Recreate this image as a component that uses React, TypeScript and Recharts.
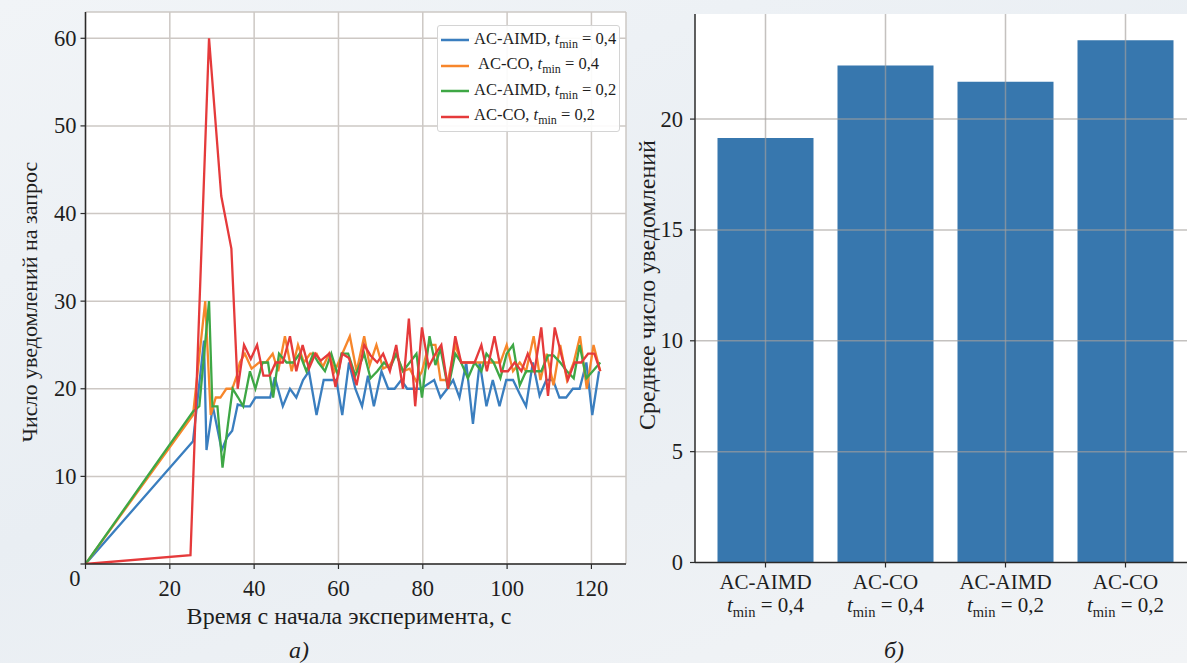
import React from 'react';
import { LineChart, Line, XAxis, YAxis, CartesianGrid, BarChart, Bar, ReferenceLine } from 'recharts';

const FONT = '"Liberation Serif", "Times New Roman", serif';
const AXIS = '#2b2b2b';
const TEXT = '#1e1e1e';

// ---------- left chart data ----------
const timeTicks = [0, 20, 40, 60, 80, 100, 120];
const countTicks = [0, 10, 20, 30, 40, 50, 60];

const seriesMethod = ['AC-AIMD', 'AC-CO', 'AC-AIMD', 'AC-CO'];
const seriesTmin = ['0,4', '0,4', '0,2', '0,2'];
const seriesColor = ['#3a7ebf', '#f7862b', '#3ea745', '#e53a3b'];

const aimd04: [number, number][] = [
  [0, 0], [25.5, 14], [28.1, 25.5], [28.7, 13], [30.2, 18], [32.3, 13], [33.6, 14.5], [34.8, 15.2],
  [36.1, 18.2], [37.7, 18], [39, 18], [40.3, 19], [42, 19], [43.8, 19], [44.9, 21.3], [46.8, 18],
  [48.5, 20], [50, 19], [51.6, 21], [53, 22], [54.8, 17], [56.5, 21], [58, 21], [59.5, 21],
  [60.9, 17], [62.5, 23], [64, 20], [65.6, 18], [67, 21.5], [68.4, 18], [70.2, 22], [71.8, 20],
  [73.3, 20], [74.9, 21], [76.3, 20], [78.1, 20], [79.5, 20], [81.1, 20.5], [82.7, 21], [84.2, 19],
  [85.8, 20], [87.2, 21], [88.7, 19], [90.3, 23], [91.9, 16], [93.5, 23], [95.1, 18], [96.6, 21],
  [98.2, 18], [99.8, 21], [101.4, 21], [103, 19.4], [104.5, 18], [106.1, 23], [107.7, 19.2], [109.3, 21],
  [110.9, 21], [112.4, 19], [114, 19], [115.6, 20], [117.2, 20], [118.8, 23], [120.2, 17], [121.8, 22],
];

const co04: [number, number][] = [
  [0, 0], [25.5, 17], [28.4, 30], [29.7, 17], [30.9, 19], [32, 19], [33.4, 20], [34.8, 20],
  [35.9, 21.5], [36.6, 23], [37.8, 24], [39.4, 22.3], [41.2, 23], [42.8, 23], [44.4, 24], [45.7, 22],
  [47.3, 26], [48.9, 22], [50.4, 25], [51.8, 23], [53.3, 24], [54.8, 24], [56.3, 22.5], [57.8, 24],
  [59.1, 22], [60.9, 24], [62.7, 26], [64.3, 22], [66.1, 26], [67.4, 22.7], [69, 25], [70.6, 22.3],
  [72.2, 22.7], [73.7, 24], [75.3, 22], [76.9, 22.3], [78.5, 20.8], [79.8, 22], [81.4, 25], [83, 25],
  [84.2, 21], [86, 21], [87.7, 25], [89.1, 23], [90.7, 23], [92.3, 23], [93.9, 23], [95.1, 23],
  [96.8, 23], [98.4, 23], [99.9, 25], [101.4, 22], [103, 23], [104.5, 22], [106.3, 26], [107.9, 21],
  [109.4, 24], [111, 20.4], [112.6, 25], [114.2, 21], [115.8, 23], [117.3, 26], [118.9, 20], [120.5, 25],
  [122.1, 22],
];

const aimd02: [number, number][] = [
  [0, 0], [25.5, 17.4], [27, 18], [29.3, 30], [30.1, 18], [31.3, 18], [32.5, 11], [33.8, 16],
  [34.9, 20], [36.2, 19], [37.4, 18], [39, 22], [40.3, 20], [42, 23], [43.3, 23], [44.5, 19],
  [45.9, 24], [47.7, 23], [49.3, 23], [50.8, 24], [52.4, 22], [54, 24], [55.2, 23], [56.8, 22],
  [58.3, 24], [59.9, 21.5], [60.7, 24], [62.3, 24], [64, 21.5], [66.1, 24], [67.6, 21.2], [69.2, 22],
  [70.8, 23], [72.2, 22.3], [73.7, 24], [75.3, 22], [76.9, 23], [78.5, 24], [79.8, 19], [81.6, 26],
  [83, 22.7], [84.2, 24.6], [86, 20], [87.7, 24], [89.1, 23], [90.7, 21.2], [92.3, 23], [93.9, 22],
  [95.1, 24], [96.8, 23], [98.4, 21.2], [99.9, 24], [101.4, 25], [103, 20.4], [104.5, 22], [106.1, 22],
  [108.1, 22], [109.7, 23.8], [111, 23.8], [112.6, 23], [114.2, 22], [115.8, 21.2], [117.2, 25], [118.8, 21.2],
  [120.3, 22], [122.1, 23],
];

const co02: [number, number][] = [
  [0, 0], [24.9, 1], [29.3, 60], [32.2, 42], [34.6, 36], [36.1, 20], [37.6, 25], [39.2, 23.4],
  [40.7, 25], [42.2, 21.5], [43.7, 21.5], [45.1, 23], [46.8, 23], [48.5, 26], [50, 22], [51.5, 25],
  [53, 22.3], [54.5, 24], [55.8, 23.2], [57.8, 24], [59.3, 20.2], [60.9, 24], [62.5, 23.5], [64.3, 20.4],
  [66.1, 25], [67.6, 23.8], [69.2, 23], [70.6, 24], [72.2, 22], [73.7, 25], [75.3, 20], [76.7, 28],
  [78.2, 18], [79.8, 27], [81.4, 22.5], [83, 24], [84.4, 25], [86, 20], [87.7, 26], [89.1, 23],
  [90.7, 23], [92.3, 23], [93.9, 25], [95.2, 22], [97, 26], [98.6, 22], [100.2, 22], [101.8, 23],
  [103.4, 22], [104.9, 24], [106.5, 22], [108.1, 27], [109.7, 19.2], [111.3, 27], [112.8, 24], [114.4, 21],
  [116, 23], [117.6, 23], [119.2, 24], [120.7, 24], [122.1, 22],
];

const seriesPoints = [aimd04, co04, aimd02, co02];

// ---------- right chart data ----------
const barMethod = ['AC-AIMD', 'AC-CO', 'AC-AIMD', 'AC-CO'];
const barTmin = ['0,4', '0,4', '0,2', '0,2'];
const barValues = [19.15, 22.42, 21.68, 23.56];
const meanTicks = [0, 5, 10, 15, 20];

const barData = barValues.map((v, i) => ({ id: `${barMethod[i]} ${barTmin[i]}`, value: v }));

const toRows = (pts: [number, number][]) => pts.map(([t, v]) => ({ t, v }));

const GRID_OVER = 'rgba(165,160,156,0.65)';

const LeftYTick = (props: any) => {
  const { x, y, payload } = props;
  const zero = payload.value === 0;
  return (
    <text x={zero ? x + 4 : x} y={zero ? y + 22 : y + 7.5} textAnchor="end" fontFamily={FONT} fontSize={22.5} fill={TEXT}>
      {payload.value}
    </text>
  );
};

const LeftXTick = (props: any) => {
  const { x, y, payload } = props;
  if (payload.value === 0) return <g />;
  return (
    <text x={x} y={y + 24} textAnchor="middle" fontFamily={FONT} fontSize={22.5} fill={TEXT}>
      {payload.value}
    </text>
  );
};

const RightYTick = (props: any) => {
  const { x, y, payload } = props;
  return (
    <text x={x} y={y + 7.5} textAnchor="end" fontFamily={FONT} fontSize={22.5} fill={TEXT}>
      {payload.value}
    </text>
  );
};

const BarTick = (props: any) => {
  const { x, y, index } = props;
  return (
    <g transform={`translate(${x},${y})`}>
      <text x={0} y={19} textAnchor="middle" fontFamily={FONT} fontSize={21} fill={TEXT}>
        {barMethod[index]}
      </text>
      <text x={0} y={42} textAnchor="middle" fontFamily={FONT} fontSize={21} fill={TEXT}>
        <tspan fontStyle="italic">t</tspan>
        <tspan fontSize={14.5} dy={5}>min</tspan>
        <tspan dy={-5}>{` = ${barTmin[index]}`}</tspan>
      </text>
    </g>
  );
};

const LegendBox = () => (
  <div
    style={{
      position: 'absolute', left: 437, top: 25, width: 183, height: 107,
      border: '1px solid #d4d4d4', borderRadius: 3, background: 'rgba(255,255,255,0.9)',
      boxSizing: 'border-box', fontFamily: FONT, fontSize: 16.5, color: TEXT,
    }}
  >
    {seriesMethod.map((m, i) => (
      <div key={i} style={{ position: 'absolute', left: 3, top: 3 + i * 25.5, height: 22, display: 'flex', alignItems: 'center', whiteSpace: 'nowrap' }}>
        <svg width={28} height={4} style={{ marginRight: i === 1 ? 9 : 5 }}>
          <line x1={0} y1={2} x2={28} y2={2} stroke={seriesColor[i]} strokeWidth={2.5} />
        </svg>
        <span>
          {m}, <i>t</i><sub style={{ fontSize: 12, verticalAlign: -4 }}>min</sub> = {seriesTmin[i]}
        </span>
      </div>
    ))}
  </div>
);

const abs = (extra: React.CSSProperties): React.CSSProperties => ({
  position: 'absolute', fontFamily: FONT, color: TEXT, whiteSpace: 'nowrap', lineHeight: 1, ...extra,
});

export default function App() {
  return (
    <div
      style={{
        position: 'fixed', left: 0, top: 0, width: 1187, height: 663, overflow: 'hidden',
        background: 'linear-gradient(160deg, #f1f4f7 0%, #e9eef3 50%, #f2f4f6 100%)',
      }}
    >
      <div style={{ position: 'absolute', left: 0, top: 0 }}>
        <LineChart width={640} height={663} margin={{ top: 12, right: 14, bottom: 37, left: 5 }}>
          <CartesianGrid stroke="#cdc8c4" strokeWidth={1.5} fill="#ffffff" fillOpacity={1} />
          <XAxis
            dataKey="t" type="number" domain={[0, 128.2]} ticks={timeTicks} allowDataOverflow
            height={62} tickSize={5} tickMargin={3} tick={<LeftXTick />}
            axisLine={{ stroke: AXIS, strokeWidth: 1.5 }} tickLine={{ stroke: AXIS, strokeWidth: 1.2 }}
          />
          <XAxis xAxisId="top" orientation="top" type="number" domain={[0, 128.2]} height={0}
            tick={false} tickLine={false} axisLine={{ stroke: AXIS, strokeWidth: 1.5 }} />
          <YAxis
            type="number" domain={[0, 63]} ticks={countTicks} allowDataOverflow width={80.5}
            tickSize={5} tickMargin={4} tick={<LeftYTick />}
            axisLine={{ stroke: AXIS, strokeWidth: 1.5 }} tickLine={{ stroke: AXIS, strokeWidth: 1.2 }}
          />
          <YAxis yAxisId="right" orientation="right" type="number" domain={[0, 63]} width={0}
            tick={false} tickLine={false} axisLine={{ stroke: AXIS, strokeWidth: 1.5 }} />
          {seriesPoints.map((pts, i) => (
            <Line
              key={i} data={toRows(pts)} dataKey="v" name={`${seriesMethod[i]}, tmin = ${seriesTmin[i]}`}
              type="linear" stroke={seriesColor[i]} strokeWidth={2.3} dot={false} activeDot={false}
              isAnimationActive={false}
            />
          ))}
        </LineChart>
      </div>
      <LegendBox />

      <div style={{ position: 'absolute', left: 600, top: 0 }}>
        <BarChart width={620} height={663} data={barData} margin={{ top: 14, right: 24, bottom: 40, left: 5 }}>
          <CartesianGrid stroke="#ffffff" strokeOpacity={0} fill="#ffffff" fillOpacity={1} />
          <Bar dataKey="value" fill="#3777ae" barSize={96} isAnimationActive={false} />
          {meanTicks.filter((v) => v > 0).map((v) => (
            <ReferenceLine key={`h${v}`} y={v} stroke={GRID_OVER} strokeWidth={1.5} />
          ))}
          {barData.map((d) => (
            <ReferenceLine key={`v${d.id}`} x={d.id} stroke={GRID_OVER} strokeWidth={1.5} />
          ))}
          <XAxis
            dataKey="id" type="category" padding={{ left: 10.5, right: 10.5 }} height={60.5}
            tickSize={5} tickMargin={2} tick={<BarTick />} interval={0}
            axisLine={{ stroke: AXIS, strokeWidth: 1.5 }} tickLine={{ stroke: AXIS, strokeWidth: 1.2 }}
          />
          <XAxis xAxisId="top" orientation="top" dataKey="id" type="category" height={0}
            tick={false} tickLine={false} axisLine={{ stroke: AXIS, strokeWidth: 1.5 }} />
          <YAxis
            type="number" domain={[0, 24.74]} ticks={meanTicks} allowDataOverflow width={90}
            tickSize={5} tickMargin={7} tick={<RightYTick />}
            axisLine={{ stroke: AXIS, strokeWidth: 1.5 }} tickLine={{ stroke: AXIS, strokeWidth: 1.2 }}
          />
        </BarChart>
      </div>

      <div style={abs({ left: 349, top: 604, fontSize: 24, transform: 'translateX(-50%)' })}>
        Время с начала эксперимента, с
      </div>
      <div style={abs({ left: 30, top: 302, fontSize: 22, transform: 'translate(-50%, -50%) rotate(-90deg)' })}>
        Число уведомлений на запрос
      </div>
      <div style={abs({ left: 647, top: 285, fontSize: 24, transform: 'translate(-50%, -50%) rotate(-90deg)' })}>
        Среднее число уведомлений
      </div>
      <div style={abs({ left: 299, top: 638, fontSize: 24, fontStyle: 'italic', transform: 'translateX(-50%)' })}>
        а)
      </div>
      <div style={abs({ left: 894, top: 638, fontSize: 24, fontStyle: 'italic', transform: 'translateX(-50%)' })}>
        б)
      </div>
    </div>
  );
}
